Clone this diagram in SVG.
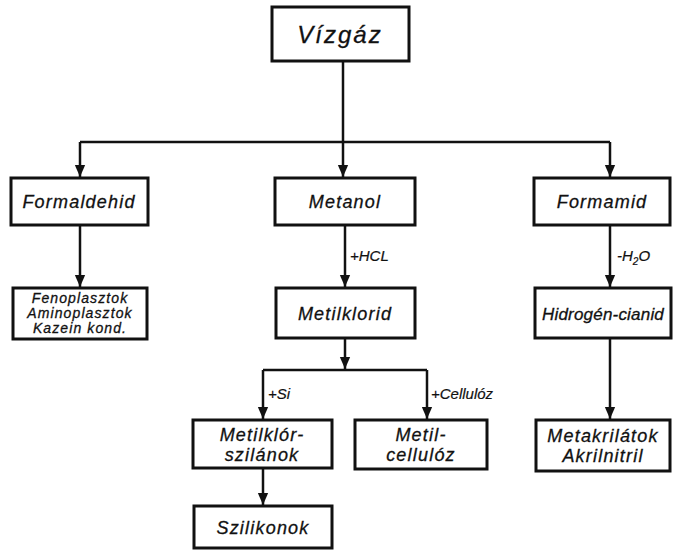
<svg xmlns="http://www.w3.org/2000/svg" width="674" height="553" viewBox="0 0 674 553">
<defs>
<style>
.box{fill:#fff;stroke:#111;stroke-width:3}
.t{font-family:"Liberation Sans",Arial,sans-serif;font-style:italic;font-size:18px;letter-spacing:1.2px;fill:#111;stroke:#111;stroke-width:0.3;text-anchor:middle}
.s{font-size:14px;letter-spacing:1.1px}
.lbl{font-family:"Liberation Sans",Arial,sans-serif;font-style:italic;font-size:15px;fill:#111;stroke:#111;stroke-width:0.2}
.c{stroke:#111;stroke-width:2.5;fill:none}
</style>
<marker id="a" markerUnits="userSpaceOnUse" markerWidth="12" markerHeight="14" viewBox="0 0 14 12" refX="14" refY="6" orient="auto">
<path d="M0,0 L14,6 L0,12 Z" fill="#111"/>
</marker>
</defs>
<g id="connectors">
<line class="c" x1="343" y1="61" x2="343" y2="177" marker-end="url(#a)"/>
<line class="c" x1="80" y1="142" x2="610" y2="142"/>
<line class="c" x1="80" y1="142" x2="80" y2="177" marker-end="url(#a)"/>
<line class="c" x1="610" y1="142" x2="610" y2="177" marker-end="url(#a)"/>
<line class="c" x1="80" y1="225" x2="80" y2="287" marker-end="url(#a)"/>
<line class="c" x1="345" y1="225" x2="345" y2="287" marker-end="url(#a)"/>
<line class="c" x1="345" y1="338" x2="345" y2="369" marker-end="url(#a)"/>
<line class="c" x1="263" y1="370" x2="427" y2="370"/>
<line class="c" x1="263" y1="370" x2="263" y2="419" marker-end="url(#a)"/>
<line class="c" x1="427" y1="370" x2="427" y2="419" marker-end="url(#a)"/>
<line class="c" x1="263" y1="468" x2="263" y2="505" marker-end="url(#a)"/>
<line class="c" x1="610" y1="225" x2="610" y2="287" marker-end="url(#a)"/>
<line class="c" x1="610" y1="338" x2="610" y2="419" marker-end="url(#a)"/>
<text class="lbl" x="350" y="261">+HCL</text>
<text class="lbl" x="617" y="261">-H<tspan font-size="10" dy="4">2</tspan><tspan dy="-4">O</tspan></text>
<text class="lbl" x="268" y="399">+Si</text>
<text class="lbl" x="431" y="399">+Cellulóz</text>
</g>
<g id="vizgaz"><rect class="box" x="272" y="7" width="137" height="54"/><text class="t" x="340" y="43" style="font-size:24px;letter-spacing:2px">Vízgáz</text></g>
<g id="formaldehid"><rect class="box" x="11" y="178" width="137" height="47"/><text class="t" x="79" y="208">Formaldehid</text></g>
<g id="metanol"><rect class="box" x="275" y="178" width="140" height="47"/><text class="t" x="345" y="208">Metanol</text></g>
<g id="formamid"><rect class="box" x="534" y="178" width="136" height="47"/><text class="t" x="602" y="208">Formamid</text></g>
<g id="plasztok"><rect class="box" x="13" y="288" width="134" height="51"/><text class="t s" x="80" y="303">Fenoplasztok</text><text class="t s" x="80" y="318">Aminoplasztok</text><text class="t s" x="80" y="333">Kazein kond.</text></g>
<g id="metilklorid"><rect class="box" x="276" y="288" width="139" height="50"/><text class="t" x="345" y="320">Metilklorid</text></g>
<g id="hidrogencianid"><rect class="box" x="535" y="288" width="136" height="50"/><text class="t" x="603" y="320" style="font-size:17px;letter-spacing:0.2px">Hidrogén-cianid</text></g>
<g id="metilklorszilanok"><rect class="box" x="193" y="420" width="139" height="48"/><text class="t" x="262" y="441">Metilklór-</text><text class="t" x="262" y="461">szilánok</text></g>
<g id="metilcellulaz"><rect class="box" x="355" y="420" width="132" height="49"/><text class="t" x="421" y="441">Metil-</text><text class="t" x="421" y="461">cellulóz</text></g>
<g id="metakrilatok"><rect class="box" x="536" y="420" width="134" height="51"/><text class="t" x="603" y="442">Metakrilátok</text><text class="t" x="603" y="462">Akrilnitril</text></g>
<g id="szilikonok"><rect class="box" x="194" y="506" width="138" height="42"/><text class="t" x="263" y="534">Szilikonok</text></g>
</svg>
